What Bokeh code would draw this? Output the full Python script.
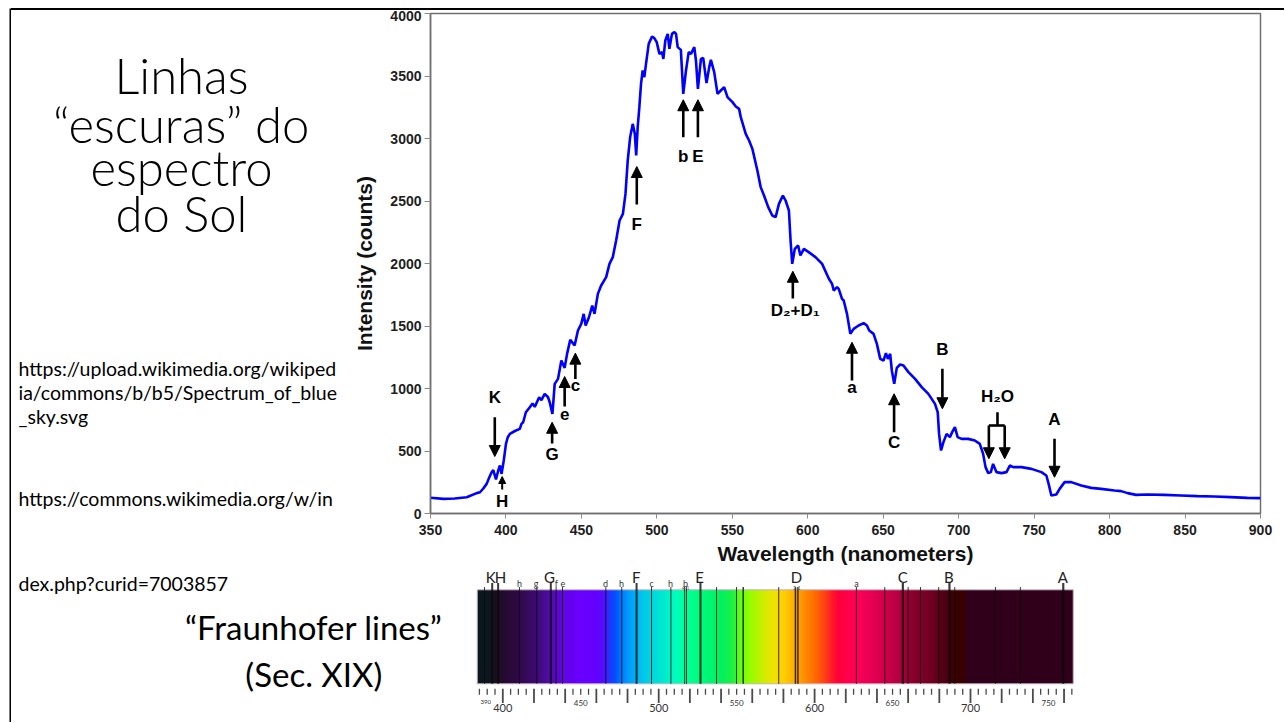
import numpy as np
from bokeh.plotting import figure
from bokeh.models import Range1d, FixedTicker, Arrow, NormalHead, ColumnDataSource, Spacer
from bokeh.layouts import row, column
from bokeh.embed import file_html
from bokeh.resources import INLINE
from bokeh.core.properties import value

# ---------------- data: solar spectrum (blue sky) ----------------
wavelength = [350, 358.6, 366, 374, 380.6, 382.8, 385, 387.2, 389, 390.5, 391.6, 393.4, 394.8, 396, 397.1,
              398.5, 400, 401.2, 402.6, 405.9, 409.2, 410.3, 411.4, 413.2, 415.8, 417.6, 419.1, 422, 423.5,
              425.7, 427.9, 429, 430.8, 432.3, 434.5, 436.7, 438.9, 440.5, 442.6, 445.5, 447.7, 449.9, 451.5,
              452.8, 455, 457.2, 458.7, 460.9, 463.1, 466.4, 468.6, 470.8, 473, 475.3, 477.5, 479.2, 480.7,
              482.3, 484, 485.4, 486.3, 487.3, 488.4, 489.5, 490.6, 491.7, 492.8, 494.6, 496.8, 498.3, 499.9,
              501.7, 503.4, 504.3, 505.6, 507.2, 508.3, 510, 511.6, 512.7, 513.8, 515.9, 517.5, 519.3, 521.1,
              522.6, 524.8, 525.9, 527.2, 529.2, 530.7, 532.9, 534.7, 535.8, 538, 540.2, 542.4, 544.6, 546.8,
              550.1, 552.3, 554.5, 555.6, 558.9, 561.1, 563.3, 566.6, 568.8, 571, 573.8, 576.5, 578.7, 580.9,
              583.5, 585.3, 587.5, 588.6, 589.7, 591.4, 593.6, 595.1, 597.4, 600.6, 605.1, 609.5, 613.9, 616.1,
              617.2, 619.4, 620.5, 622.7, 623.8, 626, 628.2, 630.4, 633.7, 637, 639.2, 640.7, 643.6, 645.8,
              648, 650.2, 651.8, 653.1, 654.6, 655.7, 657.3, 659, 661.2, 663.4, 666.7, 671.1, 675.5, 679.9,
              684.3, 686.1, 687, 688.3, 689.9, 692, 694.2, 695.7, 697.5, 699.3, 701.9, 706.3, 710.7, 714,
              716.2, 717.8, 719.6, 721.3, 722.8, 725, 728.4, 731.7, 733.9, 736.1, 741.6, 748.2, 754.8, 758.1,
              759.6, 761.4, 764.7, 766.9, 770.2, 774.6, 781.2, 787.8, 794.4, 803.2, 807.6, 812, 817.5, 825.2,
              836.2, 847.2, 858.2, 869.2, 880.2, 891.2, 900]
intensity = [126, 117, 120, 130, 163, 170, 200, 237, 290, 330, 347, 272, 340, 384, 317,
             420, 557, 610, 637, 660, 677, 717, 730, 810, 850, 880, 853, 930, 907,
             957, 930, 890, 797, 1037, 1077, 1224, 1165, 1277, 1389, 1344, 1464, 1517, 1597,
             1504, 1570, 1664, 1597, 1757, 1824, 1891, 1997, 2051, 2184, 2344, 2397, 2557, 2824,
             3011, 3117, 3037, 2864, 3091, 3251, 3437, 3544, 3491, 3597, 3757, 3816, 3803, 3771,
             3677, 3691, 3637, 3784, 3837, 3717, 3837, 3851, 3837, 3731, 3709, 3357, 3544, 3691,
             3677, 3731, 3624, 3397, 3637, 3645, 3443, 3571, 3629, 3531, 3357, 3384, 3411, 3331,
             3291, 3256, 3237, 3171, 3037, 2984, 2917, 2744, 2611, 2544, 2451, 2384, 2371, 2477,
             2544, 2504, 2424, 2184, 1997, 2117, 2144, 2064, 2117, 2091, 2051, 1997, 1880, 1837,
             1784, 1811, 1797, 1717, 1704, 1597, 1437, 1477, 1504, 1523, 1504, 1464, 1437, 1357,
             1237, 1224, 1283, 1237, 1277, 1144, 1037, 1165, 1192, 1184, 1131, 1077, 1011, 957,
             877, 811, 637, 504, 571, 637, 611, 651, 691, 611, 597, 597, 584, 557,
             477, 371, 323, 331, 397, 331, 323, 331, 384, 371, 371, 357, 331, 304,
             237, 144, 152, 197, 251, 251, 224, 205, 197, 184, 179, 163, 149, 152,
             149, 144, 139, 136, 131, 125, 123]

x_ticks = [350, 400, 450, 500, 550, 600, 650, 700, 750, 800, 850, 900]
y_ticks = [0, 500, 1000, 1500, 2000, 2500, 3000, 3500, 4000]

# line annotations (label text and position, arrow start/end in data units)
ann_text = ["K", "H", "G", "e", "c", "F", "b", "E", "D\u2082+D\u2081", "a", "C", "B", "H\u2082O", "A"]
ann_x = [392.6, 397.5, 430.6, 438.9, 446.0, 486.7, 517.5, 527.2, 591.7, 629.3, 657.2, 689.2, 725.7, 763.5]
ann_y = [930, 98, 472, 798, 1024, 2312, 2856, 2856, 1624, 1006, 570, 1312, 936, 750]
arrow_x = [392.6, 430.6, 438.9, 446.0, 486.7, 517.5, 527.2, 590.1, 629.3, 657.2, 689.2, 720.0, 730.5, 763.5]
arrow_y0 = [770, 560, 856, 1077, 2472, 3011, 3011, 1720, 1064, 650, 1158, 704, 704, 598]
arrow_y1 = [456, 730, 1096, 1283, 2776, 3310, 3310, 1938, 1370, 958, 838, 438, 438, 290]
small_arrow_x = [397.5]
small_arrow_y0 = [192]
small_arrow_y1 = [296]
bracket_xs = [[725.7, 725.7], [720.0, 730.5]]
bracket_ys = [[810, 704], [704, 704]]

# ---------------- data: Fraunhofer spectrum strip ----------------
bar_start, bar_end = 383.6, 765.9
stop_wl = [383.6, 392, 396, 400, 405, 410, 415, 420, 425, 430, 435, 440, 445, 450, 460, 465, 468,
           472, 476, 480, 485, 490, 495, 500, 505, 510, 515, 520, 525, 530, 540, 548, 552, 558, 565,
           570, 575, 580, 585, 590, 595, 600, 605, 610, 615, 620, 627, 635, 642, 650, 655, 661, 666,
           671, 677, 680, 684, 688, 692, 696, 698, 765.9]
stop_col = ["#0a181d", "#0e1620", "#1a0f22", "#220a2e", "#2a0a3a", "#300848", "#360a5a", "#3c0a6e",
            "#450b88", "#500ca8", "#5a08c8", "#6206e4", "#6600f5", "#6a00ff", "#6400ff", "#5010ff",
            "#2a30ff", "#0050ff", "#0078ff", "#0098ff", "#00b0f4", "#00c6ea", "#00d6de", "#00e2d6",
            "#00eecc", "#00fcc0", "#00ffa8", "#00ff90", "#00fc80", "#00f878", "#00f060", "#20f040",
            "#60ff10", "#90ff00", "#c0f000", "#e0e800", "#f4e000", "#ffd000", "#ffb800", "#ffa000",
            "#ff8400", "#ff6c00", "#ff4c10", "#ff2424", "#ff0038", "#ff0048", "#ff0058", "#ea0056",
            "#d8004c", "#c00046", "#b00040", "#900030", "#800028", "#7a0028", "#6a0020", "#5a0016",
            "#4e0016", "#3e0004", "#3a0000", "#360004", "#30001a", "#30001a"]
line_wl = [388.3, 393.2, 397.0, 410.7, 421.8, 430.8, 434.2, 438.3, 466.1, 476.3, 485.8, 495.4, 507.8,
           516.6, 517.8, 526.8, 537.1, 549.9, 554.2, 577.0, 587.7, 589.3, 626.8, 645.0, 656.6, 660.0,
           667.9, 679.6, 686.5, 689.9, 716.0, 732.0, 759.5]
line_w = [1, 2, 2, 1, 1, 2, 1, 1, 1, 1, 2, 1, 1, 1, 1, 2, 1, 1, 1.5, 1, 1.5, 1.5, 1, 1, 2.2, 1,
          1, 1, 2.2, 1, 1, 1, 2.2]
big_lbl = ["K", "H", "G", "F", "E", "D", "C", "B", "A"]
big_lbl_wl = [392.2, 398.5, 430.0, 485.6, 526.2, 588.4, 656.6, 686.1, 759.2]
small_lbl = ["h", "g", "f", "e", "d", "h", "c", "h", "b", "a"]
small_lbl_wl = [410.7, 421.4, 434.3, 438.5, 465.9, 476.1, 495.4, 507.6, 517.2, 626.8]
tiny_lbl = ["4-1", "2-1"]
tiny_lbl_wl = [517.2, 588.6]
ruler_ticks = list(range(385, 770, 5))
ruler_lbl = ["390", "400", "450", "500", "550", "600", "650", "700", "750"]
ruler_lbl_wl = [389, 400, 450, 500, 550, 600, 650, 700, 750]

SLIDE_FONT = value("Lato")
AX_FONT = "Liberation Sans"


def blank(w, h, xr, yr, bg="white"):
    f = figure(width=w, height=h, x_range=xr, y_range=yr, toolbar_location=None,
               output_backend="svg", min_border=0, x_axis_type=None, y_axis_type=None,
               background_fill_color=bg, border_fill_color=bg)
    f.outline_line_color = None
    return f


# black slide border strips
left_strip = blank(2, 714, Range1d(0, 1), Range1d(0, 1), bg="black")
top_strip = Spacer(width=1273, height=2, styles={"background-color": "black"})

# ---------------- left text panel (top) ----------------
tl = blank(339, 558, Range1d(0, 339), Range1d(558, 0))
tl.text(x=[170] * 4, y=[68.3, 123.3, 171.7, 223],
        text=["Linhas", "\u201cescuras\u201d do", "espectro", "do Sol"],
        text_align="center", text_baseline="alphabetic", text_font=value("Lato Light, Lato"),
        text_font_size="49px", text_color="black")
tl.text(x=[7] * 4, y=[396.7, 423.3, 450, 541.7],
        text=["https://upload.wikimedia.org/wikiped", "ia/commons/b/b5/Spectrum_of_blue",
              "_sky.svg", "https://commons.wikimedia.org/w/in"],
        text_align="left", text_baseline="middle", text_font=SLIDE_FONT,
        text_font_size="19.5px", text_color="black")

# ---------------- main chart ----------------
p = figure(width=934, height=558, x_range=Range1d(350, 900), y_range=Range1d(0, 4000),
           toolbar_location=None, output_backend="svg",
           min_border_left=77, min_border_right=24, min_border_top=3, min_border_bottom=55)
p.grid.visible = False
p.outline_line_color = "#6f6f6f"
p.outline_line_width = 1.5
p.line(wavelength, intensity, line_color="#0000ff", line_width=2.6)
p.xaxis.ticker = FixedTicker(ticks=x_ticks)
p.yaxis.ticker = FixedTicker(ticks=y_ticks)
for ax in (p.xaxis[0], p.yaxis[0]):
    ax.axis_line_color = "#6f6f6f"
    ax.axis_line_width = 1.5
    ax.major_tick_line_color = "#8a8a8a"
    ax.major_tick_in = 0
    ax.minor_tick_line_color = None
    ax.major_label_text_font = AX_FONT
    ax.major_label_text_font_style = "bold"
    ax.major_label_text_font_size = "14px"
    ax.major_label_text_color = "#1e1e1e"
    ax.axis_label_text_font = AX_FONT
    ax.axis_label_text_font_style = "bold"
    ax.axis_label_text_font_size = "21px"
    ax.axis_label_text_color = "#111111"
p.xaxis.major_tick_out = 5
p.xaxis.major_label_standoff = 6
p.xaxis.axis_label_standoff = 4
p.yaxis.major_tick_out = 6
p.yaxis.major_label_standoff = 3
p.yaxis.axis_label_standoff = 11
p.xaxis.axis_label = "Wavelength (nanometers)"
p.yaxis.axis_label = "Intensity (counts)"

p.text(x=ann_x, y=ann_y, text=ann_text, text_align="center", text_baseline="middle",
       text_font=value(AX_FONT), text_font_style="bold", text_font_size="17px", text_color="black")
arrow_src = ColumnDataSource(dict(x0=arrow_x, y0=arrow_y0, x1=arrow_x, y1=arrow_y1))
p.add_layout(Arrow(source=arrow_src, x_start="x0", y_start="y0", x_end="x1", y_end="y1",
                   line_width=2.6, line_color="black",
                   end=NormalHead(size=11, fill_color="black", line_color="black", line_width=1)))
small_src = ColumnDataSource(dict(x0=small_arrow_x, y0=small_arrow_y0, x1=small_arrow_x, y1=small_arrow_y1))
p.add_layout(Arrow(source=small_src, x_start="x0", y_start="y0", x_end="x1", y_end="y1",
                   line_width=2, line_color="black",
                   end=NormalHead(size=7, fill_color="black", line_color="black", line_width=1)))
p.multi_line(xs=bracket_xs, ys=bracket_ys, line_color="black", line_width=2.6)

# ---------------- left text panel (bottom) ----------------
bl = blank(459, 154, Range1d(0, 459), Range1d(154, 0))
bl.text(x=[7], y=[15], text=["dex.php?curid=7003857"], text_align="left", text_baseline="alphabetic",
        text_font=SLIDE_FONT, text_font_size="19.5px", text_color="black")
bl.text(x=[302.3, 302.3], y=[58.7, 105], text=["\u201cFraunhofer lines\u201d", "(Sec. XIX)"],
        text_align="center", text_baseline="middle", text_font=SLIDE_FONT,
        text_font_size="33px", text_color="black")

# ---------------- Fraunhofer strip ----------------
sp = blank(814, 154, Range1d(379.28, 901.41), Range1d(154, 0))


def h2rgb(h):
    return [int(h[i:i + 2], 16) for i in (1, 3, 5)]


rgb = np.array([h2rgb(c) for c in stop_col], dtype=float)
n_px = 800
centers = bar_start + (np.arange(n_px) + 0.5) * (bar_end - bar_start) / n_px
img = np.zeros((1, n_px), dtype=np.uint32)
view = img.view(dtype=np.uint8).reshape((1, n_px, 4))
for k in range(3):
    view[0, :, k] = np.round(np.interp(centers, stop_wl, rgb[:, k])).astype(np.uint8)
view[0, :, 3] = 255
sp.image_rgba(image=[img], x=bar_start, y=21.3, dw=bar_end - bar_start, dh=94)
sp.quad(left=[bar_start], right=[bar_end], top=21.3, bottom=115.3, fill_color=None,
        line_color="#c4b4c4", line_width=1)
thick = [w >= 2 for w in line_w]
sp.segment(x0=line_wl, x1=line_wl, y0=[14.5 if t else 18.5 for t in thick], y1=115.3,
           line_color="#0a0a0a", line_alpha=0.8, line_width=line_w)
sp.text(x=big_lbl_wl, y=8, text=big_lbl, text_align="center", text_baseline="middle",
        text_font=SLIDE_FONT, text_font_size="15px", text_color="#222222")
sp.text(x=small_lbl_wl, y=14.5, text=small_lbl, text_align="center", text_baseline="middle",
        text_font=SLIDE_FONT, text_font_size="9px", text_color="#333333")
sp.text(x=tiny_lbl_wl, y=19.5, text=tiny_lbl, text_align="center", text_baseline="middle",
        text_font=SLIDE_FONT, text_font_size="5px", text_color="#555555")
is_long = [t % 20 == 0 for t in ruler_ticks]
sp.segment(x0=ruler_ticks, x1=ruler_ticks, y0=120.3, y1=[134.5 if l else 126.3 for l in is_long],
           line_color="#4a4a4a", line_width=[1.8 if l else 1.3 for l in is_long])
lbl_y = [133.3 if v == "390" else (139.3 if int(v) % 100 == 0 else 134) for v in ruler_lbl]
lbl_sz = ["6px" if v == "390" else ("11px" if int(v) % 100 == 0 else "8px") for v in ruler_lbl]
sp.text(x=ruler_lbl_wl, y=lbl_y, text=ruler_lbl, text_align="center", text_baseline="middle",
        text_font=SLIDE_FONT, text_font_size=lbl_sz, text_color="#333333")
sp.text(x=[575.7], y=[149], text=["wavelength in nm"], text_align="center", text_baseline="top",
        text_font=SLIDE_FONT, text_font_size="15px", text_color="#222222")

inner = column(top_strip, row(tl, p), row(bl, sp))
layout = column(Spacer(width=1284, height=8),
                row(Spacer(width=9, height=714), left_strip, inner))
open("out.html", "w").write(file_html(layout, INLINE))
